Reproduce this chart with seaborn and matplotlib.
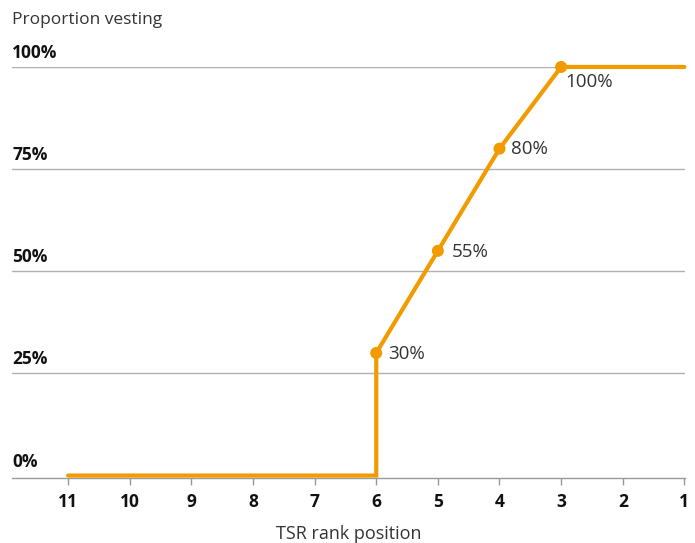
import matplotlib
matplotlib.use('Agg')
import matplotlib.pyplot as plt
import matplotlib.transforms as mtransforms
import seaborn as sns
import pandas as pd

# Vesting schedule by TSR rank
rank = [11, 10, 9, 8, 7, 6, 6, 5, 4, 3, 2, 1]
vesting = [0, 0, 0, 0, 0, 0, 30, 55, 80, 100, 100, 100]
marker_rank = [6, 5, 4, 3]
marker_vesting = [30, 55, 80, 100]
marker_labels = ['30%', '55%', '80%', '100%']
y_ticks = [0, 25, 50, 75, 100]
y_tick_labels = ['0%', '25%', '50%', '75%', '100%']
x_ticks = list(range(11, 0, -1))

orange = '#F29B00'
px = 72 / 100  # points per pixel

sns.set_style('white')
plt.rcParams['font.family'] = ['Open Sans', 'DejaVu Sans']

fig = plt.figure(figsize=(6.95, 5.43), dpi=100)
ax = fig.add_axes([0.0173, 0.1197, 0.9683, 0.757])

df = pd.DataFrame({'x': rank, 'y': vesting})
ax.plot(df['x'], df['y'], color=orange, lw=3, solid_joinstyle='miter', zorder=3, clip_on=False)
sns.scatterplot(x=marker_rank, y=marker_vesting, color=orange, s=75, edgecolor='none', ax=ax, zorder=4)
for c in ax.collections:
    c.set_clip_on(False)

# label offsets in pixels
offsets = [(12, -1, 'center'), (14, -1, 'center'), (12, 0, 'center'), (4, -15, 'center')]
for x, y, lab, (dx, dy, va) in zip(marker_rank, marker_vesting, marker_labels, offsets):
    ax.annotate(lab, (x, y), xytext=(dx * px, dy * px), textcoords='offset points', ha='left', va=va,
                fontsize=13.5, color='#333333')

ax.set_xlim(11.91, 0.99)
ax.set_ylim(-0.6, 100)
for v in y_ticks[1:]:
    ax.axhline(v, color='#b0b0b0', lw=1, zorder=1)

trans = mtransforms.blended_transform_factory(ax.transAxes, ax.transData)
for v, lab in zip(y_ticks, y_tick_labels):
    ax.annotate(lab, (0, v), xycoords=trans, xytext=(0, 14 * px), textcoords='offset points',
                ha='left', va='center', fontsize=12.5, fontweight='bold', color='#111111')

ax.set_yticks([])
ax.set_xticks(x_ticks)
ax.set_xticklabels([str(t) for t in x_ticks], fontsize=12.5, fontweight='bold', color='#111111')
ax.tick_params(axis='x', length=5, width=1, color='#999999', pad=6, direction='out', bottom=True)
ax.set_xlabel('TSR rank position', fontsize=13, color='#333333', labelpad=10)

for s in ['top', 'right', 'left']:
    ax.spines[s].set_visible(False)
ax.spines['bottom'].set_color('#999999')
ax.spines['bottom'].set_linewidth(1)

fig.text(12 / 695, 1 - 20 / 543, 'Proportion vesting', fontsize=12.5, color='#333333', ha='left', va='center')

fig.savefig('out.png', dpi=100)
